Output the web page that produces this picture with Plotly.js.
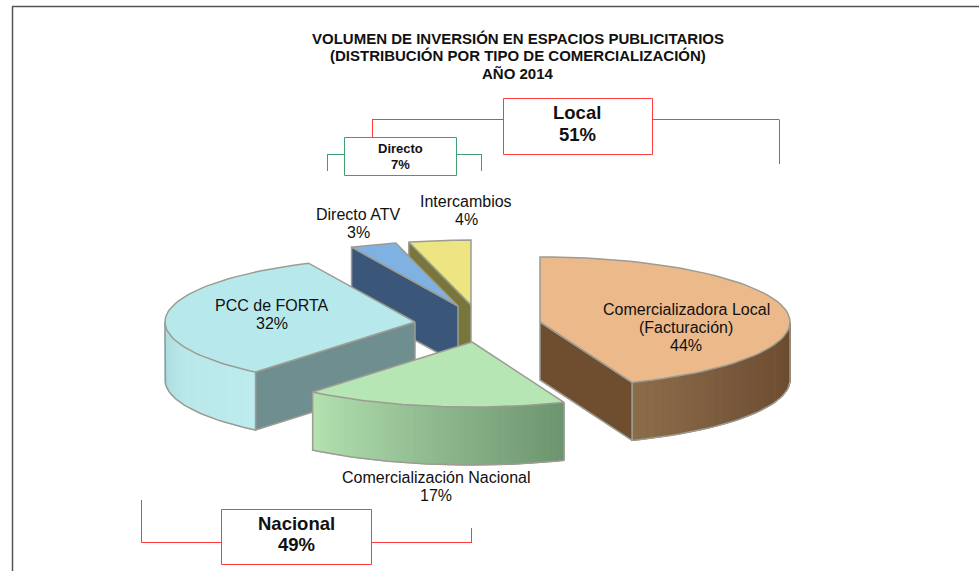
<!DOCTYPE html>
<html><head><meta charset="utf-8">
<script src="https://cdn.plot.ly/plotly-3.0.1.min.js"></script>
<style>html,body{margin:0;padding:0;background:#fff}#c{width:979px;height:571px}</style>
</head><body><div id="c"></div>
<script>
var categoryLines = [["Comercializadora Local","(Facturación)"], ["Comercialización Nacional"], ["PCC de FORTA"], ["Directo ATV"], ["Intercambios"]];
var shares = [44, 17, 32, 3, 4];
var groupLabels = ["Local", "Directo", "Nacional"];
var groupShares = [51, 7, 49];
var titleLines = ["VOLUMEN DE INVERSIÓN EN ESPACIOS PUBLICITARIOS", "(DISTRIBUCIÓN POR TIPO DE COMERCIALIZACIÓN)", "AÑO 2014"];

var RX = 250, RY = 65, DEPTH = 58, EDGE = "#9c9c92";
var apex = [[540,322],[472,342],[415,322],[458,306],[471,305]];
var skin = [
  {top:"#EBB98A", cut:"#6E4E2F", rim:["#8C6C48","#75553A","#6A4A2C"]},
  {top:"#B6E6B4", cut:"#7FA880", rim:["#B4E2B0","#8FB98F","#6C946E"]},
  {top:"#B7E9EC", cut:"#6F8E90", rim:["#BDECEE","#BAE8EA","#A9D9DC"]},
  {top:"#7FB1E3", cut:"#3A5678", rim:["#3A5678","#3A5678","#3A5678"]},
  {top:"#EDE482", cut:"#78763A", rim:["#78763A","#78763A","#78763A"]}
];

function hex(c){return [1,3,5].map(function(i){return parseInt(c.substr(i,2),16);});}
function mix(a,b,t){var A=hex(a),B=hex(b);return "rgb("+A.map(function(v,i){return Math.round(v+(B[i]-v)*t);}).join(",")+")";}
function ramp(r,t){return t<.5?mix(r[0],r[1],t*2):mix(r[1],r[2],(t-.5)*2);}

var traces = [];
function poly(xs,ys,fill,line){
  traces.push({type:"scatter",mode:"lines",x:xs.concat([xs[0]]),y:ys.concat([ys[0]]),fill:"toself",fillcolor:fill,
    line:{color:line||fill,width:line?1.5:1},hoverinfo:"skip",showlegend:false});
}
function px(i,a){return apex[i][0]+RX*Math.sin(a);}
function py(i,a){return apex[i][1]-RY*Math.cos(a);}

var angles=[], acc=0;
shares.forEach(function(s){angles.push([acc/100*2*Math.PI,(acc+s)/100*2*Math.PI]);acc+=s;});

function cutFace(i,a,c){
  poly([apex[i][0],px(i,a),px(i,a),apex[i][0]],[apex[i][1],py(i,a),py(i,a)+DEPTH,apex[i][1]+DEPTH],c,EDGE);
}
function rim(i,a0,a1,reverse){
  var n=60;
  for(var k=0;k<n;k++){
    var p=a0+(a1-a0)*k/n,q=a0+(a1-a0)*(k+1)/n,xs=[],ys=[],m=3,j;
    for(j=0;j<=m;j++){var w=p+(q-p)*j/m;xs.push(px(i,w));ys.push(py(i,w));}
    for(j=m;j>=0;j--){var w2=p+(q-p)*j/m;xs.push(px(i,w2));ys.push(py(i,w2)+DEPTH);}
    var t=(k+.5)/n;poly(xs,ys,ramp(skin[i].rim,reverse?1-t:t));
  }
  var ox=[px(i,a0)],oy=[py(i,a0)];
  for(var g=0;g<=40;g++){var w3=a0+(a1-a0)*g/40;ox.push(px(i,w3));oy.push(py(i,w3)+DEPTH);}
  ox.push(px(i,a1));oy.push(py(i,a1));
  traces.push({type:"scatter",mode:"lines",x:ox,y:oy,line:{color:EDGE,width:1.5},hoverinfo:"skip",showlegend:false});
}
function topFace(i){
  var xs=[apex[i][0]],ys=[apex[i][1]],a=angles[i];
  for(var k=0;k<=60;k++){var w=a[0]+(a[1]-a[0])*k/60;xs.push(px(i,w));ys.push(py(i,w));}
  poly(xs,ys,skin[i].top,EDGE);
}
var Q=Math.PI/2;
// painter's order, back slices first
cutFace(4,angles[4][0],skin[4].cut); topFace(4);
cutFace(3,angles[3][0],skin[3].cut); topFace(3);
rim(2,3*Q,angles[2][0],true); cutFace(2,angles[2][0],skin[2].cut); topFace(2);
rim(0,angles[0][1],Q,false);
poly([apex[0][0],apex[0][0],px(0,angles[0][1]),px(0,angles[0][1])],[apex[0][1],apex[0][1]+DEPTH,py(0,angles[0][1])+DEPTH,py(0,angles[0][1])],skin[0].cut,EDGE);
topFace(0);
rim(1,angles[1][1],angles[1][0],false); topFace(1);

var T=function(x,y,html,size,bold){return {xref:"x",yref:"y",x:x,y:y,text:bold?"<b>"+html+"</b>":html,showarrow:false,
  xanchor:"center",yanchor:"middle",align:"center",font:{family:"Liberation Sans, Arial, sans-serif",size:size,color:"#111"}};};
var annotations=[T(518,38,titleLines[0],15,true),T(518,55,titleLines[1],15,true),T(518,73,titleLines[2],15,true)];
function block(lines,x,y0,step,size,bold){lines.forEach(function(s,k){annotations.push(T(x,y0+k*step,s,size,bold));});}
var lab=function(i,x,y0){block(categoryLines[i].concat([shares[i]+"%"]),x,y0,18,16,false);};
lab(0,686,309);lab(1,436,477);lab(2,272,305);lab(3,358,214);lab(4,466,201);
block([groupLabels[0],groupShares[0]+"%"],577,112,22,18.5,true);
block([groupLabels[1],groupShares[1]+"%"],400,148,16,13,true);
block([groupLabels[2],groupShares[2]+"%"],296,523,21,18.5,true);

var RED="#ff3b3b",GRN="#3f9f72";
var seg=function(x0,y0,x1,y1,c,w){return {type:"line",xref:"x",yref:"y",x0:x0,y0:y0,x1:x1,y1:y1,line:{color:c,width:w||1}};};
var box=function(x0,y0,x1,y1,c){return {type:"rect",xref:"x",yref:"y",x0:x0,y0:y0,x1:x1,y1:y1,line:{color:c,width:1},fillcolor:"#fff"};};
var shapes=[
  seg(12.5,6.5,12.5,571,"#555",1.5),seg(12,6.5,979,6.5,"#555",1.5),
  seg(372,119.5,503,119.5,RED),seg(372.5,119.5,372.5,137,RED),seg(652,119.5,779,119.5,RED),seg(779.5,119.5,779.5,164,RED),
  box(503.5,98.5,652.5,154.5,RED),
  seg(327,154.5,344,154.5,GRN),seg(327.5,154.5,327.5,171,GRN),seg(456,154.5,482,154.5,GRN),seg(481.5,154.5,481.5,171,GRN),
  box(344.5,137.5,456.5,175.5,GRN),
  seg(141.5,500,141.5,542.5,RED),seg(141.5,542.5,221,542.5,RED),seg(371,542.5,472,542.5,RED),seg(471.5,528,471.5,542.5,RED),
  box(221.5,509.5,371.5,564.5,RED)
];
var layout={width:979,height:571,margin:{l:0,r:0,t:0,b:0},paper_bgcolor:"#fff",plot_bgcolor:"#fff",showlegend:false,
  xaxis:{range:[0,979],visible:false,fixedrange:true},yaxis:{range:[571,0],visible:false,fixedrange:true},
  annotations:annotations,shapes:shapes};
Plotly.newPlot("c",traces,layout,{displayModeBar:false,staticPlot:true});
</script></body></html>
